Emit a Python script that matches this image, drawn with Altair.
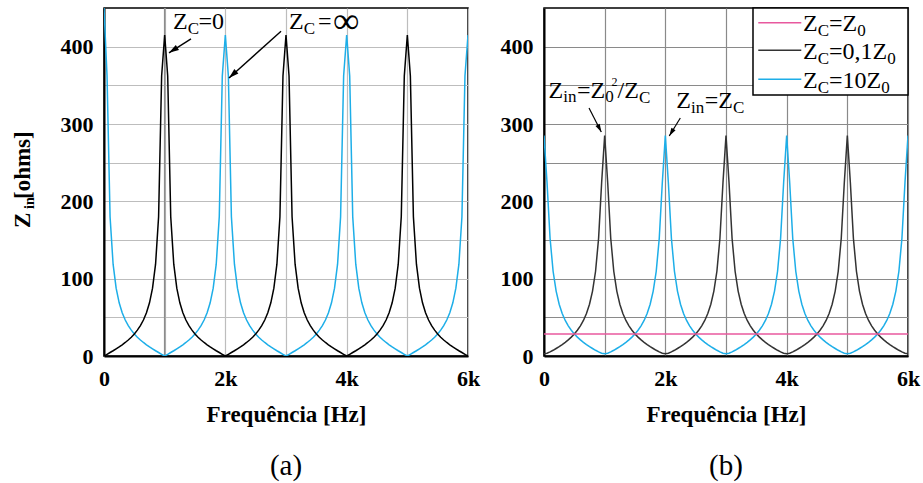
import altair as alt
import pandas as pd

SERIF = "Liberation Serif"

# ---------------- data ----------------
freq = list(range(0, 6001, 50))

# (a) Z_C = 0 (short circuit)
left_short = [
    0, 2.2, 4.5, 6.8, 9.3, 11.8, 14.5, 17.5, 20.7, 24.3, 28.5, 33.4, 39.2, 46.5, 55.9, 68.8, 87.7, 118.7, 180, 362, 415,
    362, 180, 118.7, 87.7, 68.8, 55.9, 46.5, 39.2, 33.4, 28.5, 24.3, 20.7, 17.5, 14.5, 11.8, 9.3, 6.8, 4.5, 2.2, 0,
    2.2, 4.5, 6.8, 9.3, 11.8, 14.5, 17.5, 20.7, 24.3, 28.5, 33.4, 39.2, 46.5, 55.9, 68.8, 87.7, 118.7, 180, 362, 415,
    362, 180, 118.7, 87.7, 68.8, 55.9, 46.5, 39.2, 33.4, 28.5, 24.3, 20.7, 17.5, 14.5, 11.8, 9.3, 6.8, 4.5, 2.2, 0,
    2.2, 4.5, 6.8, 9.3, 11.8, 14.5, 17.5, 20.7, 24.3, 28.5, 33.4, 39.2, 46.5, 55.9, 68.8, 87.7, 118.7, 180, 362, 415,
    362, 180, 118.7, 87.7, 68.8, 55.9, 46.5, 39.2, 33.4, 28.5, 24.3, 20.7, 17.5, 14.5, 11.8, 9.3, 6.8, 4.5, 2.2, 0,
]
# (a) Z_C = infinity (open circuit)
left_open = [
    450, 362, 180, 118.7, 87.7, 68.8, 55.9, 46.5, 39.2, 33.4, 28.5, 24.3, 20.7, 17.5, 14.5, 11.8, 9.3, 6.8, 4.5, 2.2, 0,
    2.2, 4.5, 6.8, 9.3, 11.8, 14.5, 17.5, 20.7, 24.3, 28.5, 33.4, 39.2, 46.5, 55.9, 68.8, 87.7, 118.7, 180, 362, 415,
    362, 180, 118.7, 87.7, 68.8, 55.9, 46.5, 39.2, 33.4, 28.5, 24.3, 20.7, 17.5, 14.5, 11.8, 9.3, 6.8, 4.5, 2.2, 0,
    2.2, 4.5, 6.8, 9.3, 11.8, 14.5, 17.5, 20.7, 24.3, 28.5, 33.4, 39.2, 46.5, 55.9, 68.8, 87.7, 118.7, 180, 362, 415,
    362, 180, 118.7, 87.7, 68.8, 55.9, 46.5, 39.2, 33.4, 28.5, 24.3, 20.7, 17.5, 14.5, 11.8, 9.3, 6.8, 4.5, 2.2, 0,
    2.2, 4.5, 6.8, 9.3, 11.8, 14.5, 17.5, 20.7, 24.3, 28.5, 33.4, 39.2, 46.5, 55.9, 68.8, 87.7, 118.7, 180, 362, 415,
]
# (b) Z_C = 0,1 Z_0
right_low = [
    2.85, 3.6, 5.3, 7.4, 9.7, 12.1, 14.8, 17.7, 20.8, 24.4, 28.5, 33.3, 39.0, 46.0, 55.0, 66.9, 83.9, 109.6, 152.2, 224, 285,
    224, 152.2, 109.6, 83.9, 66.9, 55.0, 46.0, 39.0, 33.3, 28.5, 24.4, 20.8, 17.7, 14.8, 12.1, 9.7, 7.4, 5.3, 3.6, 2.85,
    3.6, 5.3, 7.4, 9.7, 12.1, 14.8, 17.7, 20.8, 24.4, 28.5, 33.3, 39.0, 46.0, 55.0, 66.9, 83.9, 109.6, 152.2, 224, 285,
    224, 152.2, 109.6, 83.9, 66.9, 55.0, 46.0, 39.0, 33.3, 28.5, 24.4, 20.8, 17.7, 14.8, 12.1, 9.7, 7.4, 5.3, 3.6, 2.85,
    3.6, 5.3, 7.4, 9.7, 12.1, 14.8, 17.7, 20.8, 24.4, 28.5, 33.3, 39.0, 46.0, 55.0, 66.9, 83.9, 109.6, 152.2, 224, 285,
    224, 152.2, 109.6, 83.9, 66.9, 55.0, 46.0, 39.0, 33.3, 28.5, 24.4, 20.8, 17.7, 14.8, 12.1, 9.7, 7.4, 5.3, 3.6, 2.85,
]
# (b) Z_C = 10 Z_0
right_high = [
    285, 224, 152.2, 109.6, 83.9, 66.9, 55.0, 46.0, 39.0, 33.3, 28.5, 24.4, 20.8, 17.7, 14.8, 12.1, 9.7, 7.4, 5.3, 3.6, 2.85,
    3.6, 5.3, 7.4, 9.7, 12.1, 14.8, 17.7, 20.8, 24.4, 28.5, 33.3, 39.0, 46.0, 55.0, 66.9, 83.9, 109.6, 152.2, 224, 285,
    224, 152.2, 109.6, 83.9, 66.9, 55.0, 46.0, 39.0, 33.3, 28.5, 24.4, 20.8, 17.7, 14.8, 12.1, 9.7, 7.4, 5.3, 3.6, 2.85,
    3.6, 5.3, 7.4, 9.7, 12.1, 14.8, 17.7, 20.8, 24.4, 28.5, 33.3, 39.0, 46.0, 55.0, 66.9, 83.9, 109.6, 152.2, 224, 285,
    224, 152.2, 109.6, 83.9, 66.9, 55.0, 46.0, 39.0, 33.3, 28.5, 24.4, 20.8, 17.7, 14.8, 12.1, 9.7, 7.4, 5.3, 3.6, 2.85,
    3.6, 5.3, 7.4, 9.7, 12.1, 14.8, 17.7, 20.8, 24.4, 28.5, 33.3, 39.0, 46.0, 55.0, 66.9, 83.9, 109.6, 152.2, 224, 285,
]
# (b) Z_C = Z_0
matched_freq = [0, 6000]
matched_value = [28.5, 28.5]

x_grid = [0, 1000, 2000, 3000, 4000, 5000, 6000]
y_grid = [0, 50, 100, 150, 200, 250, 300, 350, 400]

BLACK = "#000000"
DARK = "#333333"
CYAN = "#1daee8"
PINK = "#e8589e"

X_LABELS = "datum.value % 2000 == 0 ? (datum.value == 0 ? '0' : (datum.value / 1000) + 'k') : ''"
Y_LABELS = "datum.value % 100 == 0 ? datum.label : ''"


def encs(grid_color):
    x = alt.X("f:Q", scale=alt.Scale(domain=[0, 6000], nice=False),
              axis=alt.Axis(values=x_grid, labelExpr=X_LABELS, title="Frequência [Hz]",
                            gridColor=grid_color, labelFlush=False, labelOverlap=False,
                            labelPadding=12, titlePadding=14))
    y = alt.Y("z:Q", scale=alt.Scale(domain=[0, 450], nice=False),
              axis=alt.Axis(values=y_grid, labelExpr=Y_LABELS, title=None, format="d",
                            gridColor=grid_color, labelPadding=11, labelOverlap=False))
    return x, y


def line(x, y, fs, vals, color):
    d = pd.DataFrame({"f": fs, "z": vals})
    return alt.Chart(d).mark_line(color=color, strokeWidth=1.5, clip=True).encode(x=x, y=y)


def pieces(x, y, f, z, parts, baseline="alphabetic"):
    out = []
    for t, dx, dy, size in parts:
        d = pd.DataFrame({"f": [f], "z": [z], "t": [t]})
        out.append(alt.Chart(d).mark_text(align="left", baseline=baseline, dx=dx, dy=dy,
                                          fontSize=size, font=SERIF, color="black")
                   .encode(x=x, y=y, text="t:N"))
    return out


def arrow(x, y, f1, z1, f2, z2, angle, size, width):
    d = pd.DataFrame({"f": [f1], "z": [z1], "f2": [f2], "z2": [z2]})
    shaft = alt.Chart(d).mark_rule(color="black", strokeWidth=width).encode(
        x=x, y=y, x2=alt.X2("f2"), y2=alt.Y2("z2"))
    hd = pd.DataFrame({"f": [f2], "z": [z2]})
    head = alt.Chart(hd).mark_point(shape="M0,0L-1,-0.3L-1,0.3Z", filled=True, size=size, angle=angle,
                                    color="black", opacity=1, strokeWidth=0).encode(x=x, y=y)
    return [shaft, head]


one = pd.DataFrame({"a": [0]})


def ytitle(t, px, py, size):
    return alt.Chart(one).mark_text(angle=270, align="left", baseline="alphabetic", fontSize=size,
                                    fontWeight="bold", font=SERIF, color="black").encode(
        x=alt.value(px), y=alt.value(py), text=alt.value(t))


def bottom_title(t):
    return alt.TitleParams(t, orient="bottom", font=SERIF, fontSize=29, fontWeight="normal",
                           color="black", offset=26)


# ---------------- panel (a) ----------------
xa, ya = encs("#bdbdbd")
layers_a = [
    alt.Chart(pd.DataFrame({"f": [1000]})).mark_rule(color="#8c8c8c", strokeWidth=1.5).encode(x=xa),
    line(xa, ya, freq, left_open, CYAN),
    line(xa, ya, freq, left_short, BLACK),
]
layers_a += arrow(xa, ya, 1434, 410, 1071, 392, 147.5, 400, 1.4)
layers_a += arrow(xa, ya, 2918, 420, 2060, 359.5, 137.9, 400, 1.4)
layers_a += pieces(xa, ya, 1137, 422.5, [("Z", 0, 0, 24), ("C", 14.7, 5, 17), ("=0", 25.5, 0, 24)])
layers_a += pieces(xa, ya, 3050, 422.5, [("Z", 0, 0, 24), ("C", 14.7, 5, 17), ("=", 29, 0, 24)])
# infinity sign, centred on its own glyph middle
layers_a += pieces(xa, ya, 3050, 432, [("∞", 44, 0, 37)], baseline="middle")
layers_a += [ytitle("Z", -74, 220, 23), ytitle("in", -70, 201, 14), ytitle("[ohms]", -74, 191, 23)]

panel_a = alt.layer(*layers_a).properties(width=364, height=348, title=bottom_title("(a)"))

# ---------------- panel (b) ----------------
xb, yb = encs("#8a8a8a")
layers_b = [
    line(xb, yb, freq, right_high, CYAN),
    line(xb, yb, freq, right_low, DARK),
    line(xb, yb, matched_freq, matched_value, PINK),
]
layers_b += arrow(xb, yb, 742, 320.7, 944.5, 289.7, 62.9, 260, 1.2)
layers_b += arrow(xb, yb, 2247, 307.8, 2065, 284.5, 121.4, 260, 1.2)
layers_b += pieces(xb, yb, 76, 334, [("Z", 0, 0, 24), ("in", 14.7, 4, 17), ("=", 28.5, 0, 24),
                                     ("Z", 42, 0, 24), ("0", 56.7, 4, 17), ("2", 63, -12, 12),
                                     ("/", 69, 0, 24), ("Z", 75.7, 0, 24), ("C", 90.4, 5, 17)])
layers_b += pieces(xb, yb, 2181, 321, [("Z", 0, 0, 24), ("in", 14.7, 5, 17), ("=", 28.5, 0, 24),
                                       ("Z", 42, 0, 24), ("C", 56.7, 5, 17)])
# legend box
leg = pd.DataFrame({"f": [3445], "f2": [6000], "z": [337.5], "z2": [450]})
layers_b.append(alt.Chart(leg).mark_rect(fill="white", stroke="black", strokeWidth=1.5).encode(
    x=xb, x2=alt.X2("f2"), y=yb, y2=alt.Y2("z2")))
for zz, col in [(431, PINK), (395.3, DARK), (357.8, CYAN)]:
    sw = pd.DataFrame({"f": [3532], "f2": [4241], "z": [zz]})
    layers_b.append(alt.Chart(sw).mark_rule(color=col, strokeWidth=1.5).encode(x=xb, x2=alt.X2("f2"), y=yb))
layers_b += pieces(xb, yb, 4269, 420.3, [("Z", 0, 0, 24), ("C", 14.7, 5, 17), ("=", 26, 0, 24),
                                         ("Z", 39.5, 0, 24), ("0", 54.2, 5, 17)])
layers_b += pieces(xb, yb, 4269, 383.7, [("Z", 0, 0, 24), ("C", 14.7, 5, 17), ("=0,1", 26, 0, 24),
                                         ("Z", 69.5, 0, 24), ("0", 84.2, 5, 17)])
layers_b += pieces(xb, yb, 4269, 346.2, [("Z", 0, 0, 24), ("C", 14.7, 5, 17), ("=10", 26, 0, 24),
                                         ("Z", 63.5, 0, 24), ("0", 78.2, 5, 17)])

panel_b = alt.layer(*layers_b).properties(width=364, height=348, title=bottom_title("(b)"))

chart = (
    alt.hconcat(panel_a, panel_b, spacing=18)
    .properties(padding={"left": 11, "top": 2, "right": 0, "bottom": 0}, background="white")
    .configure_view(stroke="black", strokeWidth=1.5)
    .configure_axis(labelFont=SERIF, labelFontSize=22, labelFontWeight="bold", labelColor="black",
                    titleFont=SERIF, titleFontSize=23, titleFontWeight="bold", titleColor="black",
                    ticks=False, domainColor="black", domainWidth=2, gridWidth=1.2, gridOpacity=1)
)

chart.save("out.html", embed_options={"renderer": "svg", "actions": False})
